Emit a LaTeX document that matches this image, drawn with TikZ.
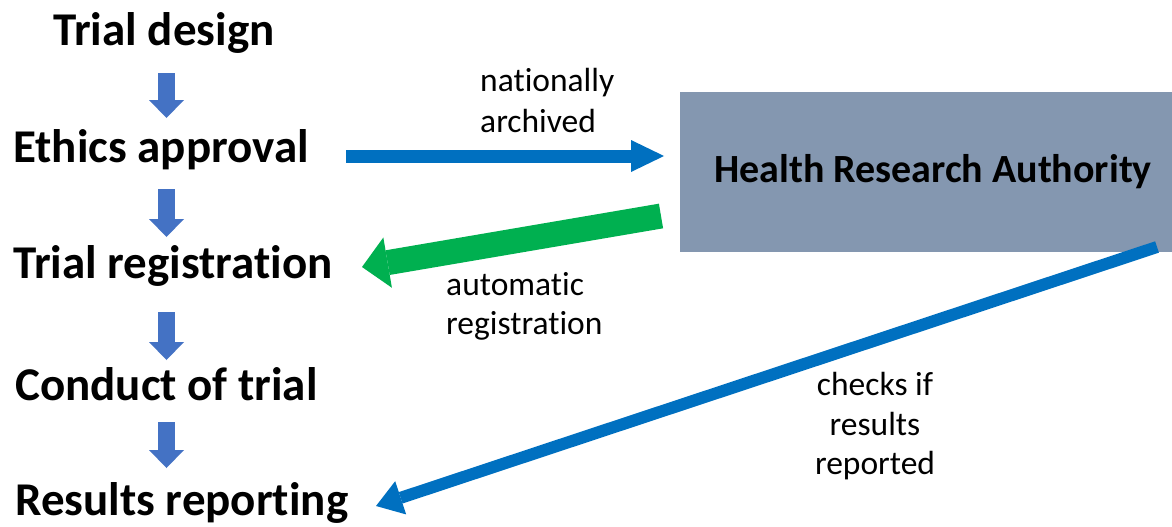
\documentclass[tikz,border=0pt]{standalone}
\usepackage{fontspec}
\setmainfont{Carlito}[Ligatures=CommonOff]
\usetikzlibrary{arrows.meta}
\definecolor{downblue}{HTML}{4472C4}
\definecolor{arrblue}{HTML}{0070C0}
\definecolor{arrgreen}{HTML}{00B050}
\definecolor{hrabox}{HTML}{8497B0}
\begin{document}
\begin{tikzpicture}[x=1pt,y=-1pt,
  stage/.style={font=\fontsize{47}{56}\selectfont\bfseries, anchor=base west, inner sep=0pt},
  lbl/.style={font=\fontsize{33.5}{40}\selectfont, inner sep=0pt, anchor=base west},
  downarr/.style={draw=downblue, line width=17pt, -{Triangle[length=18pt,width=35pt,line width=0pt]}},
  flowarr/.style={draw=arrblue, line width=13pt, -{Triangle[length=33pt,width=32pt,line width=0pt]}},
  greenarr/.style={draw=arrgreen, line width=25pt, -{Triangle[length=26pt,width=51pt,line width=0pt]}},
  diagarr/.style={draw=arrblue, line width=12pt, -{Triangle[length=26pt,width=35pt,line width=0pt]}},
  hrabox/.style={fill=hrabox, draw=none, minimum width=492pt, minimum height=160pt, inner sep=0pt,
    font=\fontsize{40}{48}\selectfont\bfseries}]
\fill[white] (0,0) rectangle (1172,527);
\useasboundingbox (0,0) rectangle (1172,527);
% stages
\node[stage, anchor=base] (design) at (164,46) {Trial design};
\node[stage] (ethics) at (13,162) {Ethics approval};
\node[stage] (reg) at (13,278) {Trial registration};
\node[stage] (conduct) at (15,400) {Conduct of trial};
\node[stage] (results) at (15,515) {Results reporting};
% box
\node[hrabox] (hra) at (926,172) {\hspace{14pt}Health Research Authority};
% labels
\node[lbl] (l1) at (480,92) {nationally};
\node[lbl] (l1b) at (480,132) {archived};
\node[lbl] (l2) at (446,295) {automatic};
\node[lbl] (l2b) at (446,334) {registration};
\node[lbl, anchor=base] (l3) at (875,395) {checks if};
\node[lbl, anchor=base] (l3b) at (875,435) {results};
\node[lbl, anchor=base] (l3c) at (875,474) {reported};
% down arrow coordinates
\coordinate (d1s) at (166.5,73);  \coordinate (d1e) at (166.5,118);
\coordinate (d2s) at (166.5,189); \coordinate (d2e) at (166.5,237);
\coordinate (d3s) at (166.5,312); \coordinate (d3e) at (166.5,360);
\coordinate (d4s) at (166.5,422); \coordinate (d4e) at (166.5,468);
\draw[downarr] (d1s) -- (d1e);
\draw[downarr] (d2s) -- (d2e);
\draw[downarr] (d3s) -- (d3e);
\draw[downarr] (d4s) -- (d4e);
% connectors
\coordinate (a1s) at (346,156); \coordinate (a1e) at (664,156);
\draw[flowarr] (a1s) -- (a1e);
\coordinate (g1s) at (661,216); \coordinate (g1e) at (362,267);
\draw[greenarr] (g1s) -- (g1e);
\coordinate (b1s) at (1157,247); \coordinate (b1e) at (376,506);
\draw[diagarr] (b1s) -- (b1e);
\end{tikzpicture}
\end{document}
